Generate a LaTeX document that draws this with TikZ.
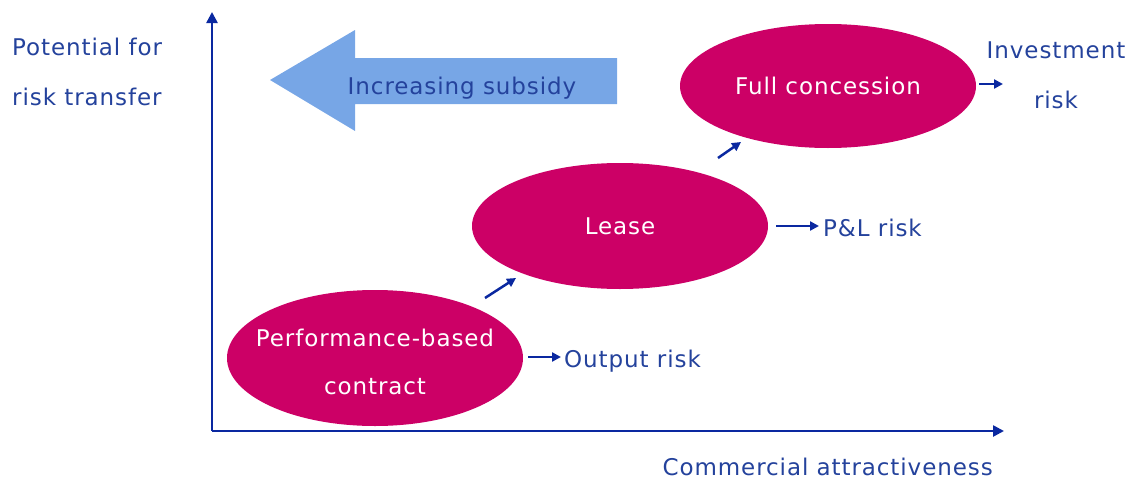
\documentclass[tikz,border=0pt]{standalone}
\usepackage{fontspec}
\setmainfont[LetterSpace=4]{DejaVu Sans}
\usetikzlibrary{shapes.geometric,arrows.meta}
\definecolor{axisblue}{RGB}{10,40,160}
\definecolor{labelblue}{RGB}{36,66,156}
\definecolor{ellcol}{RGB}{204,0,102}
\definecolor{bigarrow}{RGB}{119,166,230}
\tikzset{
  axisline/.style={draw=axisblue, line width=2.5pt, -{Triangle[length=11pt,width=11pt]}},
  smallarrow/.style={draw=axisblue, line width=2.5pt, -{Triangle[length=9pt,width=9pt]}},
  riskell/.style={ellipse, fill=ellcol, draw=none, inner sep=0pt, minimum width=296pt},
  elltext/.style={text=white, align=center, inner sep=0pt, font=\fontsize{23}{48}\selectfont},
  bluelabel/.style={text=labelblue, font=\fontsize{23}{50}\selectfont, inner sep=0pt}
}
\begin{document}
\begin{tikzpicture}[x=1pt,y=-1pt]
\useasboundingbox (0,0) rectangle (1133,479);
% axes
\coordinate (origin) at (212,431);
\coordinate (ytop) at (212,12);
\coordinate (xend) at (1004,431);
\draw[axisline] (origin) -- (ytop);
\draw[axisline] (origin) -- (xend);
% big arrow
\fill[bigarrow] (270,80) -- (355,30) -- (355,58) -- (617,58) -- (617,104) -- (355,104) -- (355,131) -- cycle;
\node[bluelabel] (subsidy) at (462,88) {Increasing subsidy};
% ellipses
\node[riskell, minimum height=136pt] (perf) at (375,358) {};
\node[elltext] (perftext) at ([yshift=-4pt]perf.center) {Performance-based\\contract};
\node[riskell, minimum height=126pt] (lease) at (620,226) {};
\node[elltext] (leasetext) at (lease.center) {Lease};
\node[riskell, minimum height=124pt] (full) at (828,86) {};
\node[elltext] (fulltext) at (full.center) {Full concession};
% labels
\node[bluelabel, anchor=west] (output) at (564,361) {Output risk};
\node[bluelabel, anchor=west] (pl) at (823,228) {P\&L risk};
\node[bluelabel, align=center] (invest) at (1056,75) {Investment\\risk};
\node[bluelabel, align=left, anchor=west] (potential) at (12,72) {Potential for\\risk transfer};
\node[bluelabel, anchor=east] (commercial) at (993,467) {Commercial attractiveness};
% small arrows
\coordinate (a1s) at (485,298); \coordinate (a1e) at (516,278);
\coordinate (a2s) at (718,158); \coordinate (a2e) at (741,142);
\coordinate (a3s) at (776,226); \coordinate (a3e) at (819,226);
\coordinate (a4s) at (528,357); \coordinate (a4e) at (561,357);
\coordinate (a5s) at (979,84); \coordinate (a5e) at (1003,84);
\draw[smallarrow] (a1s) -- (a1e);
\draw[smallarrow] (a2s) -- (a2e);
\draw[smallarrow] (a3s) -- (a3e);
\draw[smallarrow] (a4s) -- (a4e);
\draw[smallarrow] (a5s) -- (a5e);
\end{tikzpicture}
\end{document}
